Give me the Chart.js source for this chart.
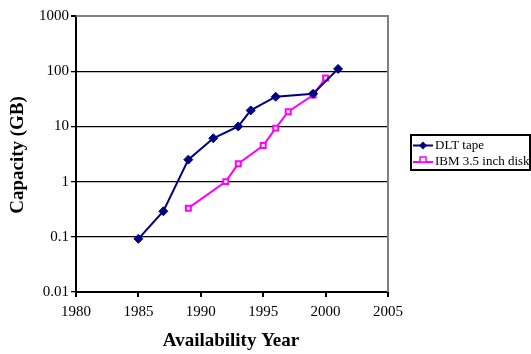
<!DOCTYPE html>
<html>
<head>
<meta charset="utf-8">
<script src="https://cdn.jsdelivr.net/npm/chart.js@4/dist/chart.umd.min.js"></script>
<style>
  html, body { margin: 0; padding: 0; background: #ffffff; }
  #wrap { width: 531px; height: 354px; position: relative; }
</style>
</head>
<body>
<div id="wrap"><canvas id="c" width="531" height="354"></canvas></div>
<script>
// ---- data ----
const dltYears = [1985, 1987, 1989, 1991, 1993, 1994, 1996, 1999, 2001];
const dltCapacity = [0.092, 0.29, 2.5, 6.1, 10, 19.5, 34.5, 39, 110];
const ibmYears = [1989, 1992, 1993, 1995, 1996, 1997, 1999, 2000];
const ibmCapacity = [0.33, 1.0, 2.1, 4.5, 9.3, 18.5, 37, 75];
const seriesNames = ["DLT tape", "IBM 3.5 inch disk"];
const yTickValues = [0.01, 0.1, 1, 10, 100, 1000];
const yTickLabels = ["0.01", "0.1", "1", "10", "100", "1000"];
const xTickValues = [1980, 1985, 1990, 1995, 2000, 2005];
const xTitle = "Availability Year";
const yTitle = "Capacity (GB)";

const NAVY = "#000080";
const MAGENTA = "#FF00FF";
const SERIF = "'Liberation Serif', 'Times New Roman', serif";

const toPts = (xs, ys) => xs.map((x, i) => ({ x: x, y: ys[i] }));

const decor = {
  id: "decor",
  beforeDatasetsDraw(chart) {
    const ctx = chart.ctx, a = chart.chartArea;
    ctx.save();
    ctx.strokeStyle = "#808080";
    ctx.lineWidth = 2;
    ctx.beginPath();
    ctx.moveTo(a.left, a.top);
    ctx.lineTo(a.right, a.top);
    ctx.lineTo(a.right, a.bottom);
    ctx.stroke();
    ctx.restore();
  },
  afterDraw(chart) {
    const ctx = chart.ctx;
    ctx.save();
    // axis titles
    ctx.fillStyle = "#000";
    ctx.font = "bold 19px " + SERIF;
    ctx.textAlign = "center";
    ctx.textBaseline = "middle";
    ctx.fillText(xTitle, 231, 341);
    ctx.translate(18, 155);
    ctx.rotate(-Math.PI / 2);
    ctx.fillText(yTitle, 0, 0);
    ctx.restore();

    // legend
    ctx.save();
    ctx.strokeStyle = "#000";
    ctx.lineWidth = 2;
    ctx.strokeRect(411, 135, 119, 35);
    ctx.font = "13px " + SERIF;
    ctx.textAlign = "left";
    ctx.textBaseline = "middle";
    ctx.fillStyle = "#000";
    // DLT
    let y = 145.5;
    ctx.strokeStyle = NAVY; ctx.lineWidth = 2;
    ctx.beginPath(); ctx.moveTo(413, y); ctx.lineTo(433, y); ctx.stroke();
    ctx.fillStyle = NAVY;
    ctx.beginPath(); ctx.moveTo(423, y - 4); ctx.lineTo(427, y); ctx.lineTo(423, y + 4); ctx.lineTo(419, y); ctx.closePath(); ctx.fill();
    ctx.fillStyle = "#000";
    ctx.fillText(seriesNames[0], 435, y);
    // IBM
    y = 162;
    ctx.strokeStyle = MAGENTA; ctx.lineWidth = 2;
    ctx.beginPath(); ctx.moveTo(413, y); ctx.lineTo(433, y); ctx.stroke();
    ctx.fillStyle = "#fff";
    ctx.fillRect(420, y - 5, 6, 5);
    ctx.lineWidth = 1.5;
    ctx.strokeRect(420, y - 5, 6, 5);
    ctx.fillStyle = "#000";
    ctx.fillText(seriesNames[1], 435, y);
    ctx.restore();
  }
};

new Chart(document.getElementById("c"), {
  type: "scatter",
  data: {
    datasets: [
      {
        label: seriesNames[0],
        data: toPts(dltYears, dltCapacity),
        showLine: true,
        borderColor: NAVY,
        backgroundColor: NAVY,
        borderWidth: 2,
        pointStyle: "rectRot",
        pointRadius: 4.5,
        pointBorderWidth: 1,
        pointBackgroundColor: NAVY,
        pointBorderColor: NAVY,
        tension: 0
      },
      {
        label: seriesNames[1],
        data: toPts(ibmYears, ibmCapacity),
        showLine: true,
        borderColor: MAGENTA,
        backgroundColor: "#fff",
        borderWidth: 2,
        pointStyle: "rect",
        pointRadius: 3.5,
        pointBorderWidth: 2,
        pointBackgroundColor: "#fff",
        pointBorderColor: MAGENTA,
        tension: 0
      }
    ]
  },
  options: {
    responsive: false,
    animation: false,
    devicePixelRatio: 1,
    layout: { padding: { left: 0, top: 16, right: 143, bottom: 0 } },
    plugins: { legend: { display: false }, tooltip: { enabled: false } },
    scales: {
      x: {
        type: "linear",
        min: 1980, max: 2005,
        afterFit(s) { s.height = 62; },
        afterBuildTicks(s) { s.ticks = xTickValues.map(v => ({ value: v })); },
        ticks: {
          color: "#000",
          font: { family: SERIF, size: 15 },
          padding: 6,
          maxRotation: 0,
          callback: (v) => String(v)
        },
        grid: { drawOnChartArea: false, color: "#000", tickColor: "#000", tickLength: 5, lineWidth: 2 },
        border: { color: "#000", width: 2 }
      },
      y: {
        type: "logarithmic",
        min: 0.01, max: 1000,
        afterFit(s) { s.width = 76; },
        afterBuildTicks(s) { s.ticks = yTickValues.map(v => ({ value: v })); },
        ticks: {
          color: "#000",
          font: { family: SERIF, size: 15 },
          padding: 2,
          callback: (v) => { const i = yTickValues.indexOf(v); return i >= 0 ? yTickLabels[i] : ""; }
        },
        grid: {
          color: (c) => (c.tick && c.tick.value === 1000 ? "#808080" : "#000"),
          lineWidth: (c) => (c.tick && c.tick.value === 1000 ? 2 : 1.3),
          tickColor: "#000",
          tickLength: 5
        },
        border: { color: "#000", width: 2 }
      }
    }
  },
  plugins: [decor]
});
</script>
</body>
</html>
